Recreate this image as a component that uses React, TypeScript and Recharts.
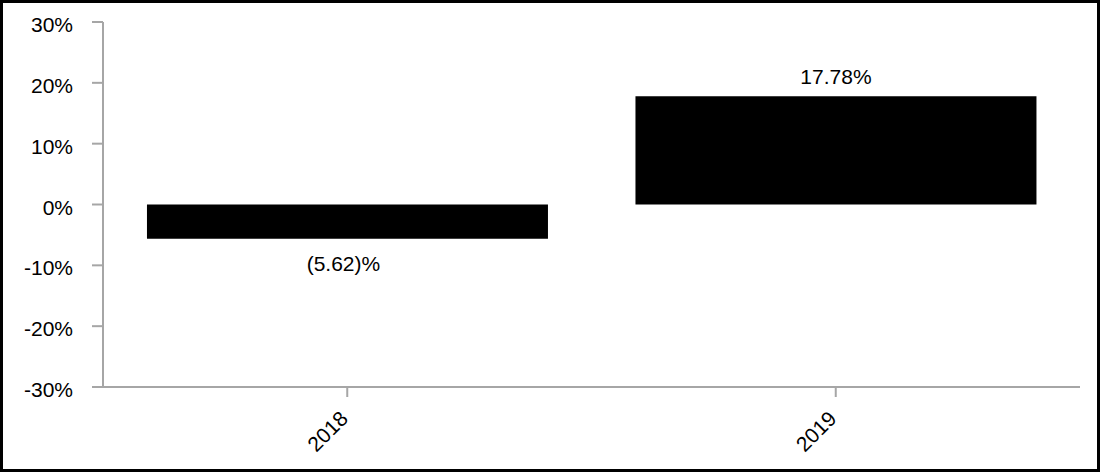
import React from "react";
import { BarChart, Bar, XAxis, YAxis, LabelList } from "recharts";

const categories = ["2018", "2019"];
const returns = [-5.62, 17.78];
const yTicks = [-30, -20, -10, 0, 10, 20, 30];

const data = categories.map((year, i) => ({ year, value: returns[i] }));

const FONT = "'Liberation Sans', Arial, Helvetica, sans-serif";
const AXIS = "#a6a6a6";
const FS = 21;

const fmtLabel = (v: number) => (v < 0 ? `(${Math.abs(v).toFixed(2)})%` : `${v.toFixed(2)}%`);

const YTick = (props: any) => {
  const { x, y, payload } = props;
  return (
    <text x={x} y={y} dy={10} textAnchor="end" fontSize={FS} fontFamily={FONT} fill="#000">
      {`${payload.value}%`}
    </text>
  );
};

const XTick = (props: any) => {
  const { x, y, payload } = props;
  return (
    <g transform={`translate(${x},${y})`}>
      <text
        x={2}
        y={23}
        textAnchor="end"
        transform="rotate(-45 2 23)"
        fontSize={FS}
        fontFamily={FONT}
        fill="#000"
      >
        {payload.value}
      </text>
    </g>
  );
};

const BarLabel = (props: any) => {
  const { x, y, width, height, value } = props;
  const top = Math.min(y, y + height);
  const bottom = Math.max(y, y + height);
  const cx = x + width / 2;
  const v = Number(value);
  if (v >= 0) {
    return (
      <text x={cx} y={top - 12} textAnchor="middle" fontSize={FS} fontFamily={FONT} fill="#000">
        {fmtLabel(v)}
      </text>
    );
  }
  return (
    <text x={cx - 4} y={bottom + 32} textAnchor="middle" fontSize={FS} fontFamily={FONT} fill="#000">
      {fmtLabel(v)}
    </text>
  );
};

export default function App() {
  return (
    <div style={{ position: "absolute", left: 0, top: 0, width: 1100, height: 472, background: "#fff" }}>
      <BarChart
        width={1100}
        height={472}
        data={data}
        margin={{ top: 22, right: 20, bottom: 0, left: 0 }}
        barCategoryGap="9%"
      >
        <YAxis
          width={103}
          domain={[-30, 30]}
          ticks={yTicks}
          interval={0}
          allowDataOverflow
          tickSize={11}
          tickMargin={19}
          axisLine={{ stroke: AXIS, strokeWidth: 2 }}
          tickLine={{ stroke: AXIS, strokeWidth: 2 }}
          tick={<YTick />}
        />
        <XAxis
          dataKey="year"
          height={85}
          tickSize={10}
          tickMargin={0}
          interval={0}
          axisLine={{ stroke: AXIS, strokeWidth: 2 }}
          tickLine={{ stroke: AXIS, strokeWidth: 2 }}
          tick={<XTick />}
        />
        <Bar dataKey="value" fill="#000" isAnimationActive={false}>
          <LabelList dataKey="value" content={<BarLabel />} />
        </Bar>
      </BarChart>
      <div
        style={{
          position: "absolute",
          left: 0,
          top: 0,
          width: 1100,
          height: 472,
          boxSizing: "border-box",
          border: "3px solid #000",
          pointerEvents: "none",
        }}
      />
    </div>
  );
}
